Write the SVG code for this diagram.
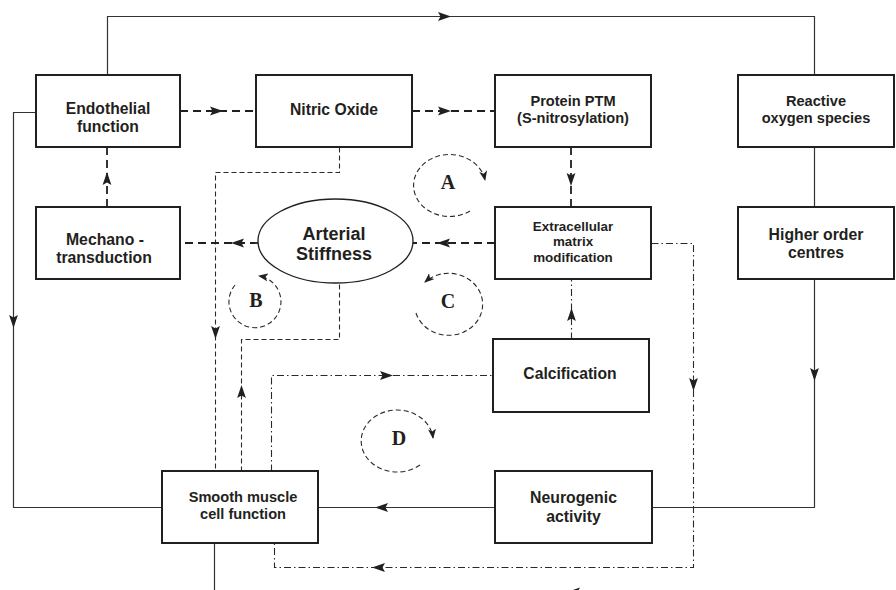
<svg xmlns="http://www.w3.org/2000/svg" xmlns:xlink="http://www.w3.org/1999/xlink" width="896" height="590" viewBox="0 0 896 590">
<style>
.box{fill:#fff;stroke:#231f20;stroke-width:2}
.t{font-family:"Liberation Sans",Arial,sans-serif;font-weight:bold;fill:#231f20;text-anchor:middle}
.lt{font-family:"Liberation Serif","Times New Roman",serif;font-weight:bold;fill:#231f20;text-anchor:middle;font-size:20px}
.c{fill:none;stroke:#333;stroke-width:1.2}
.hd{fill:none;stroke:#231f20;stroke-width:1.8;stroke-dasharray:8 5}
.td{fill:none;stroke:#2a2a2a;stroke-width:1.1;stroke-dasharray:5 3}
.dd{fill:none;stroke:#2a2a2a;stroke-width:1.1;stroke-dasharray:7 3 1.5 3}
.lp{fill:none;stroke:#2a2a2a;stroke-width:1.1;stroke-dasharray:5 3;marker-end:url(#la)}
.ah{fill:#231f20}
</style>
<defs>
<path id="ah" d="M0,0 L-13,-4.4 L-10.5,0 L-13,4.4 Z"/>
<marker id="la" viewBox="0 0 10 8" refX="9" refY="4" markerWidth="10" markerHeight="8" markerUnits="userSpaceOnUse" orient="auto">
<path d="M0,0 L10,4 L0,8 L2.5,4 Z" fill="#231f20"/>
</marker>
</defs>
<g id="connectors">
<g transform="translate(0.5,0.5)">
<path class="c" d="M107,75 V16 H814 V75"/>
<path class="c" d="M36,112 H13 V507 H162"/>
<path class="td" d="M339,147 V172 H215 V471"/>
<path class="td" d="M241,471 V339 H339 V283"/>
<path class="dd" d="M271,471 V375 H493"/>
<path class="dd" d="M571,339 V279"/>
<path class="dd" d="M651,243 H693 V567 H274 V543"/>
<path class="c" d="M814,147 V207"/>
<path class="c" d="M814,279 V507 H652"/>
<path class="c" d="M495,507 H318"/>
<path class="c" d="M214,543 V590"/>
</g>
<path class="hd" d="M180,111 H256"/>
<path class="hd" d="M412,111 H495"/>
<path class="hd" d="M571,147 V207"/>
<path class="hd" d="M495,243 H413"/>
<path class="hd" d="M258,243 H180"/>
<path class="hd" d="M107,207 V147"/>
<g class="ah">
<use xlink:href="#ah" transform="translate(451,16.5)"/>
<use xlink:href="#ah" transform="translate(223,111)"/>
<use xlink:href="#ah" transform="translate(451,111)"/>
<use xlink:href="#ah" transform="translate(571,186) rotate(90)"/>
<use xlink:href="#ah" transform="translate(437,243) rotate(180)"/>
<use xlink:href="#ah" transform="translate(231,243) rotate(180)"/>
<use xlink:href="#ah" transform="translate(107,172) rotate(-90)"/>
<use xlink:href="#ah" transform="translate(13.5,328) rotate(90)"/>
<use xlink:href="#ah" transform="translate(215.5,339) rotate(90)"/>
<use xlink:href="#ah" transform="translate(241.5,385) rotate(-90)"/>
<use xlink:href="#ah" transform="translate(393,375.5)"/>
<use xlink:href="#ah" transform="translate(571.5,308) rotate(-90)"/>
<use xlink:href="#ah" transform="translate(693.5,391) rotate(90)"/>
<use xlink:href="#ah" transform="translate(372,567.5) rotate(180)"/>
<use xlink:href="#ah" transform="translate(814.5,381) rotate(90)"/>
<use xlink:href="#ah" transform="translate(375,507.5) rotate(180)"/>
<use xlink:href="#ah" transform="translate(567,592) rotate(180)"/>
</g>
</g>
<g id="loopA">
<path class="lp" d="M470,211 A36 31 0 1 1 485,180"/>
<text class="lt" x="448" y="188.5">A</text>
</g>
<g id="loopB">
<path class="lp" d="M235,285 A26 26 0 1 0 259,276"/>
<text class="lt" x="256" y="306.5">B</text>
</g>
<g id="loopC">
<path class="lp" d="M416,313 A34 31 0 1 0 425,282"/>
<text class="lt" x="448" y="308">C</text>
</g>
<g id="loopD">
<path class="lp" d="M420,465 A36 31 0 1 1 433,438"/>
<text class="lt" x="399" y="445">D</text>
</g>
<g id="endothelial">
<rect class="box" x="36" y="75" width="144" height="72"/>
<text class="t" font-size="15.7" x="108" y="113.5">Endothelial</text>
<text class="t" font-size="15.7" x="108" y="131.5">function</text>
</g>
<g id="nitric-oxide">
<rect class="box" x="256" y="75" width="156" height="72"/>
<text class="t" font-size="15.7" x="334" y="114.5">Nitric Oxide</text>
</g>
<g id="protein-ptm">
<rect class="box" x="495" y="75" width="156" height="72"/>
<text class="t" font-size="14.6" x="573" y="106">Protein PTM</text>
<text class="t" font-size="14.6" x="573" y="123">(S-nitrosylation)</text>
</g>
<g id="ros">
<rect class="box" x="738" y="75" width="156" height="72"/>
<text class="t" font-size="14.6" x="816" y="106">Reactive</text>
<text class="t" font-size="14.6" x="816" y="123">oxygen species</text>
</g>
<g id="mechano">
<rect class="box" x="36" y="207" width="144" height="72"/>
<text class="t" font-size="15.8" x="105" y="244.5">Mechano -</text>
<text class="t" font-size="15.8" x="104" y="262.5">transduction</text>
</g>
<g id="arterial-stiffness">
<ellipse cx="335.5" cy="241" rx="77.5" ry="42" fill="#fff" stroke="#231f20" stroke-width="1.3"/>
<text class="t" font-size="18" x="334" y="240">Arterial</text>
<text class="t" font-size="18" x="334" y="259.5">Stiffness</text>
</g>
<g id="ecm">
<rect class="box" x="495" y="207" width="156" height="72"/>
<text class="t" font-size="13.4" x="573" y="230.7">Extracellular</text>
<text class="t" font-size="13.4" x="573" y="245.7">matrix</text>
<text class="t" font-size="13.4" x="573" y="261.7">modification</text>
</g>
<g id="higher-order">
<rect class="box" x="738" y="207" width="156" height="72"/>
<text class="t" font-size="15.8" x="816" y="240">Higher order</text>
<text class="t" font-size="15.8" x="816" y="258.3">centres</text>
</g>
<g id="calcification">
<rect class="box" x="493" y="339" width="156" height="73"/>
<text class="t" font-size="15.7" x="570" y="379.3">Calcification</text>
</g>
<g id="smooth-muscle">
<rect class="box" x="162" y="471" width="156" height="72"/>
<text class="t" font-size="14.6" x="243" y="502.3">Smooth muscle</text>
<text class="t" font-size="14.6" x="243" y="519">cell function</text>
</g>
<g id="neurogenic">
<rect class="box" x="495" y="471" width="157" height="72"/>
<text class="t" font-size="15.8" x="573.5" y="502.7">Neurogenic</text>
<text class="t" font-size="15.8" x="573.5" y="521.7">activity</text>
</g>
</svg>
